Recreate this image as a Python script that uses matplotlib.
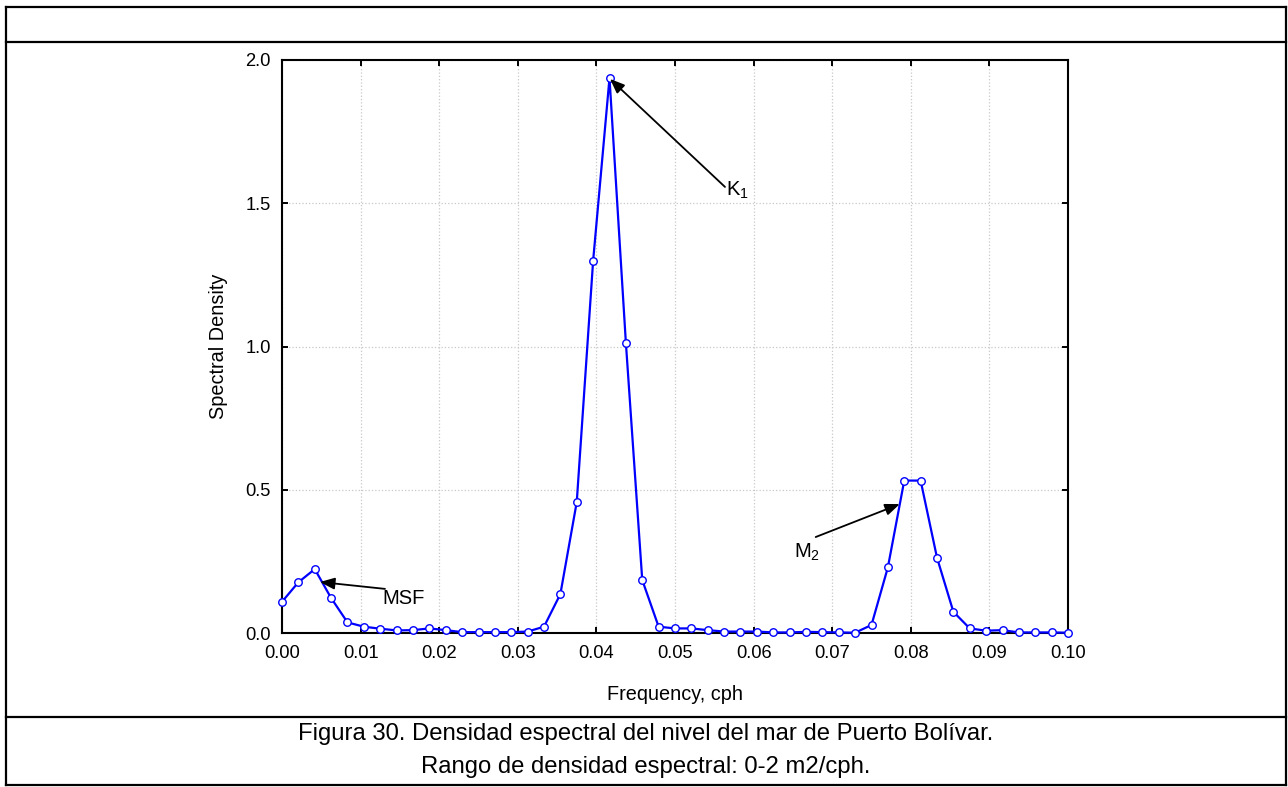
#!/usr/bin/env python3
"""Spectral density of sea level at Puerto Bolivar (Figura 30)"""

import matplotlib
matplotlib.use('Agg')
import matplotlib.pyplot as plt
from matplotlib import rcParams, font_manager
from matplotlib.lines import Line2D

rcParams['font.family'] = ['Liberation Sans', 'DejaVu Sans']
rcParams['mathtext.fontset'] = 'custom'
rcParams['mathtext.rm'] = 'Liberation Sans'
rcParams['mathtext.default'] = 'regular'

# Frequency grid (cph) and spectral density
freq = [0.0, 0.002083, 0.004167, 0.00625, 0.008333, 0.010417, 0.0125, 0.014583,
        0.016667, 0.01875, 0.020833, 0.022917, 0.025, 0.027083, 0.029167, 0.03125,
        0.033333, 0.035417, 0.0375, 0.039583, 0.041667, 0.04375, 0.045833, 0.047917,
        0.05, 0.052083, 0.054167, 0.05625, 0.058333, 0.060417, 0.0625, 0.064583,
        0.066667, 0.06875, 0.070833, 0.072917, 0.075, 0.077083, 0.079167, 0.08125,
        0.083333, 0.085417, 0.0875, 0.089583, 0.091667, 0.09375, 0.095833, 0.097917,
        0.1]
density = [0.109, 0.177, 0.223, 0.122, 0.037, 0.022, 0.015, 0.009,
           0.010, 0.016, 0.010, 0.003, 0.003, 0.003, 0.003, 0.005,
           0.022, 0.136, 0.457, 1.299, 1.937, 1.013, 0.185, 0.022,
           0.016, 0.016, 0.010, 0.005, 0.005, 0.005, 0.002, 0.002,
           0.004, 0.003, 0.002, 0.001, 0.028, 0.229, 0.532, 0.532,
           0.263, 0.074, 0.016, 0.008, 0.010, 0.002, 0.002, 0.002,
           0.001]

x_ticks = [0.00, 0.01, 0.02, 0.03, 0.04, 0.05, 0.06, 0.07, 0.08, 0.09, 0.10]
y_ticks = [0.0, 0.5, 1.0, 1.5, 2.0]

# label, text position, arrow tail, arrow head (data coords)
peaks = [
    ('$K_1$', (0.0565, 1.546), (0.05636, 1.557), (0.04173, 1.934)),
    ('$M_2$', (0.0652, 0.282), (0.0679, 0.335), (0.0786, 0.450)),
    ('MSF',   (0.0128, 0.122), (0.0131, 0.154), (0.00483, 0.178)),
]

caption = ['Figura 30. Densidad espectral del nivel del mar de Puerto Bolívar.',
           'Rango de densidad espectral: 0-2 m2/cph.']

W, H = 1288, 787
fig = plt.figure(figsize=(W / 100, H / 100), dpi=100)

def px(x, y):
    return x / W, 1 - y / H

# axes placed in pixel terms
x0, y0 = px(282, 633)
x1, y1 = px(1068, 60)
ax = fig.add_axes([x0, y0, x1 - x0, y1 - y0])

ax.plot(freq, density, color='#0000ff', lw=1.6, marker='o', ms=5.4,
        mfc='white', mec='#0000ff', mew=1.0, clip_on=False, zorder=3)

ax.set_xlim(0, 0.1)
ax.set_ylim(0, 2.0)
ax.set_xticks(x_ticks)
ax.set_xticklabels([f'{v:.2f}' for v in x_ticks])
ax.set_yticks(y_ticks)
ax.set_yticklabels([f'{v:.1f}' for v in y_ticks])
ax.tick_params(direction='in', length=4.5, width=1.4, top=True, right=True,
               labelsize=13.2, colors='black')
ax.tick_params(axis='x', pad=8.5)
ax.tick_params(axis='y', pad=8)
ax.grid(True, color='#c8c8c8', linestyle=':', linewidth=0.9)
for sp in ax.spines.values():
    sp.set_linewidth(1.5)

ax.set_xlabel('Frequency, cph', fontsize=14.3)
ax.xaxis.set_label_coords(0.5, -0.1065)
ax.xaxis.label.set_va('center')
ax.set_ylabel('Spectral Density', fontsize=14.3)
ax.yaxis.set_label_coords(-0.0814, 0.5)
ax.yaxis.label.set_va('center')

for label, txt, tail, head in peaks:
    ax.annotate('', xy=head, xytext=tail,
                arrowprops=dict(arrowstyle='-|>,head_length=0.55,head_width=0.22',
                                color='black', lw=1.3,
                                mutation_scale=16, shrinkA=0, shrinkB=0))
    ax.text(txt[0], txt[1], label, fontsize=14.5, ha='left', va='center')

# table-like frame around the figure
frame_lw = 1.6
for (xa, ya), (xb, yb) in [((5.5, 6.5), (1286, 6.5)), ((5.5, 41.7), (1286, 41.7)),
                           ((5.5, 716.7), (1286, 716.7)), ((5.5, 785.3), (1286, 785.3)),
                           ((5.5, 6.5), (5.5, 785.3)), ((1286, 6.5), (1286, 785.3))]:
    pa, pb = px(xa, ya), px(xb, yb)
    fig.add_artist(Line2D([pa[0], pb[0]], [pa[1], pb[1]], color='black',
                          lw=frame_lw, solid_capstyle='projecting'))

# caption, condensed font if available
names = {f.name for f in font_manager.fontManager.ttflist}
if 'Liberation Sans Narrow' in names:
    cap_font, cap_size = 'Liberation Sans Narrow', 19.5
else:
    cap_font, cap_size = 'Liberation Sans', 17.2
for i, line in enumerate(caption):
    cx, cy = px(645.5, 734 + 33 * i)
    fig.text(cx, cy, line, family=cap_font, fontsize=cap_size,
             ha='center', va='center')

fig.savefig('out.png', dpi=100)
